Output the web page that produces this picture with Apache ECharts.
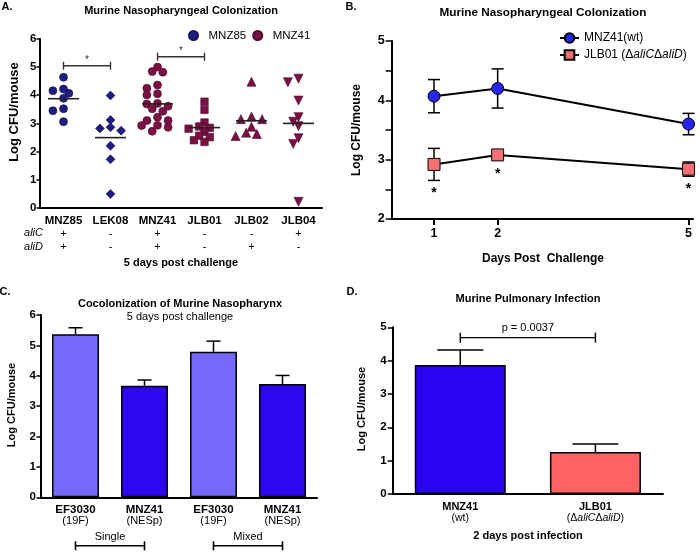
<!DOCTYPE html>
<html><head><meta charset="utf-8">
<script src="https://cdn.jsdelivr.net/npm/echarts@6/dist/echarts.min.js"></script>
<style>html,body{margin:0;padding:0;background:#fff}#c{width:700px;height:552px}</style>
</head><body><div id="c"></div><script>
// ---------- Panel A data ----------
const strainsA = ['MNZ85','LEK08','MNZ41','JLB01','JLB02','JLB04'];
const aliC = ['+','-','+','-','-','+'];
const aliD = ['+','-','+','-','+','-'];
const valsMNZ85 = [4.64,4.22,4.16,4.07,3.89,3.52,3.45,3.06];
const valsLEK08 = [3.99,3.12,2.86,2.82,2.74,2.20,1.72,0.49];
const valsMNZ41 = [5.00,4.84,4.82,4.36,4.25,4.05,4.01,3.71,3.69,3.61,3.52,3.43,3.22,3.10,3.10,2.93,2.92,2.86,2.72];
const valsJLB01 = [3.77,3.48,3.03,2.89,2.84,2.81,2.70,2.56,2.51,2.40,2.34];
const valsJLB02 = [4.48,3.24,3.15,3.15,2.88,2.67,2.62,2.55];
const valsJLB04 = [4.59,4.46,3.81,3.22,3.06,2.90,2.47,2.27,0.21];
const sigA = [[0,1,5.05],[2,3,5.37]];
const sigALabels = ['*','*'];
const legendA = ['MNZ85','MNZ41'];

// ---------- Panel B data ----------
const daysB = [1,2,5];
const meanMNZ41 = [4.07,4.20,3.60];
const semMNZ41 = [0.28,0.33,0.18];
const meanJLB01 = [2.92,3.08,2.84];
const semJLB01 = [0.27,0.05,0.12];
const sigB = ['*','*','*'];
const nameB1 = 'MNZ41(wt)';
const nameB2 = 'JLB01 (ΔaliCΔaliD)';

// ---------- Panel C data ----------
const catsC = ['EF3030','MNZ41','EF3030','MNZ41'];
const subC = ['(19F)','(NESp)','(19F)','(NESp)'];
const valsC = [5.37,3.67,4.79,3.73];
const errC = [0.21,0.19,0.35,0.28];
const groupsC = [['Single',0,1],['Mixed',2,3]];

// ---------- Panel D data ----------
const catsD = ['MNZ41','JLB01'];
const subD = ['(wt)','(ΔaliCΔaliD)'];
const valsD = [3.87,1.26];
const errD = [0.45,0.24];
const sigD = [[0,1,4.69]];
const sigDLabels = ['p = 0.0037'];

// ---------- styles ----------
const FF = '"Liberation Sans", Arial, Helvetica, sans-serif';
const NAVY = '#1f1d80', MAROON = '#7a1043';
const groupsA = [valsMNZ85, valsLEK08, valsMNZ41, valsJLB01, valsJLB02, valsJLB04];
const symA = ['circle','diamond','circle','rect','triangle','triangle'];
const rotA = [0,0,0,0,0,180];
const sizeA = [8,9,8,7.5,9,9];
const colA = [NAVY, NAVY, MAROON, MAROON, MAROON, MAROON];
const legA = [legendA[0], legendA[0], legendA[1], legendA[1], legendA[1], legendA[1]];
const colorsC = ['#7569fb','#2c08ee','#7569fb','#2c08ee'];
const colorsD = ['#2b04f2','#fe6262'];
const mean = a => a.reduce((s,v)=>s+v,0)/a.length;

function italicRich(s){ return '{s|' + s.replace(/(ali[CD])/g, '}{i|$1}{s|') + '}'; }

const axisLine = {show:true, onZero:false, lineStyle:{color:'#000', width:2}};
function yAx(g, min, max, size, margin, tlen, extra){
  return Object.assign({type:'value', gridIndex:g, min:min, max:max, interval:1,
    axisLine:axisLine, axisTick:{show:true, length:tlen, lineStyle:{color:'#000', width:1.5}},
    axisLabel:{margin:margin, fontWeight:'bold', fontSize:size, color:'#000', fontFamily:FF},
    splitLine:{show:false}}, extra||{});
}

function bracket(labels, font, tick, textGap, color){
  return function(params, api){
    const a = api.coord([api.value(0), api.value(2)]);
    const b = api.coord([api.value(1), api.value(2)]);
    const st = {stroke:color, lineWidth:1.4};
    return {type:'group', children:[
      {type:'line', shape:{x1:a[0], y1:a[1], x2:b[0], y2:b[1]}, style:st},
      {type:'line', shape:{x1:a[0], y1:a[1]-tick, x2:a[0], y2:a[1]+tick}, style:st},
      {type:'line', shape:{x1:b[0], y1:b[1]-tick, x2:b[0], y2:b[1]+tick}, style:st},
      {type:'text', x:(a[0]+b[0])/2, y:a[1]-textGap, style:{text:labels[params.dataIndex], font:font, fill:color, align:'center', verticalAlign:'middle'}}
    ]};
  };
}
function errUp(capHalf){
  return function(params, api){
    const b = api.coord([api.value(0), api.value(1)]);
    const t = api.coord([api.value(0), api.value(1)+api.value(2)]);
    const st = {stroke:'#000', lineWidth:1.5};
    return {type:'group', children:[
      {type:'line', shape:{x1:b[0], y1:b[1], x2:t[0], y2:t[1]}, style:st},
      {type:'line', shape:{x1:t[0]-capHalf, y1:t[1], x2:t[0]+capHalf, y2:t[1]}, style:st}
    ]};
  };
}
function errBoth(params, api){
  const t = api.coord([api.value(0), api.value(1)+api.value(2)]);
  const b = api.coord([api.value(0), api.value(1)-api.value(2)]);
  const st = {stroke:'#000', lineWidth:1.5};
  return {type:'group', children:[
    {type:'line', shape:{x1:t[0], y1:t[1], x2:b[0], y2:b[1]}, style:st},
    {type:'line', shape:{x1:t[0]-6, y1:t[1], x2:t[0]+6, y2:t[1]}, style:st},
    {type:'line', shape:{x1:b[0]-6, y1:b[1], x2:b[0]+6, y2:b[1]}, style:st}
  ]};
}

const series = [];
// Panel A scatter
groupsA.forEach((vals, i) => {
  series.push({type:'scatter', name:legA[i], xAxisIndex:0, yAxisIndex:0, symbol:symA[i], symbolRotate:rotA[i],
    symbolSize:sizeA[i], itemStyle:{color:colA[i], opacity:1, borderColor: i>=2 ? '#4a0a28' : '#15135a', borderWidth:0.6},
    data: vals.map(v => [i, v]), z:3});
});
// Panel A mean lines
series.push({type:'custom', xAxisIndex:0, yAxisIndex:0, z:4, encode:{x:0, y:1},
  data: groupsA.map((vals,i)=>[i, mean(vals)]),
  renderItem:(params, api)=>{ const c = api.coord([api.value(0), api.value(1)]);
    return {type:'line', shape:{x1:c[0]-15.5, y1:c[1], x2:c[0]+15.5, y2:c[1]}, style:{stroke:'#222', lineWidth:1.6}}; }});
// Panel A significance
series.push({type:'custom', xAxisIndex:0, yAxisIndex:0, z:4, encode:{x:[0,1], y:2}, data:sigA,
  renderItem: bracket(sigALabels, '10px '+FF, 4, 5, '#333')});

// Panel B
series.push({type:'custom', xAxisIndex:1, yAxisIndex:1, z:1, encode:{x:0, y:1}, renderItem:errBoth,
  data: daysB.map((d,i)=>[d, meanMNZ41[i], semMNZ41[i]])});
series.push({type:'custom', xAxisIndex:1, yAxisIndex:1, z:1, encode:{x:0, y:1}, renderItem:errBoth,
  data: daysB.map((d,i)=>[d, meanJLB01[i], semJLB01[i]])});
series.push({type:'line', name:nameB1, xAxisIndex:1, yAxisIndex:1, z:3, symbol:'circle', symbolSize:12,
  itemStyle:{color:'#2525ee', borderColor:'#000', borderWidth:1}, lineStyle:{color:'#000', width:2},
  data: daysB.map((d,i)=>[d, meanMNZ41[i]])});
series.push({type:'line', name:nameB2, xAxisIndex:1, yAxisIndex:1, z:3, symbol:'rect', symbolSize:12,
  itemStyle:{color:'#f47070', borderColor:'#000', borderWidth:1}, lineStyle:{color:'#000', width:2},
  data: daysB.map((d,i)=>[d, meanJLB01[i]])});
series.push({type:'custom', xAxisIndex:1, yAxisIndex:1, z:4, encode:{x:0, y:1},
  data: daysB.map((d,i)=>[d, meanJLB01[i], semJLB01[i]]),
  renderItem:(params, api)=>{
    const m = api.coord([api.value(0), api.value(1)]);
    const lo = api.coord([api.value(0), api.value(1)-api.value(2)]);
    const y = Math.max(lo[1], m[1]+6) + 13;
    return {type:'text', x:m[0], y:y, style:{text:sigB[params.dataIndex], font:'bold 14px '+FF, fill:'#000', align:'center', verticalAlign:'middle'}};
  }});

// Panel C
series.push({type:'bar', xAxisIndex:2, yAxisIndex:2, barWidth:47, z:2,
  itemStyle:{borderColor:'#000', borderWidth:1.5},
  data: valsC.map((v,i)=>({value:v, itemStyle:{color:colorsC[i]}}))});
series.push({type:'custom', xAxisIndex:2, yAxisIndex:2, z:1, encode:{x:0, y:1}, renderItem:errUp(7),
  data: valsC.map((v,i)=>[i, v, errC[i]])});
series.push({type:'custom', xAxisIndex:2, yAxisIndex:2, z:4, encode:{x:[0,1], y:2},
  data: groupsC.map(g=>[g[1], g[2], 0]),
  renderItem:(params, api)=>{
    const a = api.coord([api.value(0), 0]), b = api.coord([api.value(1), 0]);
    const y = a[1] + 48.5; const st = {stroke:'#000', lineWidth:1.6};
    return {type:'group', children:[
      {type:'line', shape:{x1:a[0], y1:y, x2:b[0], y2:y}, style:st},
      {type:'line', shape:{x1:a[0], y1:y-4.5, x2:a[0], y2:y+4.5}, style:st},
      {type:'line', shape:{x1:b[0], y1:y-4.5, x2:b[0], y2:y+4.5}, style:st},
      {type:'text', x:(a[0]+b[0])/2, y:y-9, style:{text:groupsC[params.dataIndex][0], font:'11px '+FF, fill:'#000', align:'center', verticalAlign:'middle'}}
    ]};
  }});

// Panel D
series.push({type:'bar', xAxisIndex:3, yAxisIndex:3, barWidth:91, z:2,
  itemStyle:{borderColor:'#000', borderWidth:1.5},
  data: valsD.map((v,i)=>({value:v, itemStyle:{color:colorsD[i]}}))});
series.push({type:'custom', xAxisIndex:3, yAxisIndex:3, z:1, encode:{x:0, y:1}, renderItem:errUp(23),
  data: valsD.map((v,i)=>[i, v, errD[i]])});
series.push({type:'custom', xAxisIndex:3, yAxisIndex:3, z:4, encode:{x:[0,1], y:2}, data:sigD,
  renderItem: bracket(sigDLabels, '11px '+FF, 5, 10, '#000')});

function gtext(x, y, text, font, extra){
  return Object.assign({type:'text', x:x, y:y, style:{text:text, font:font+' '+FF, fill:'#000', align:'center', verticalAlign:'middle'}}, extra||{});
}
const graphic = [
  gtext(7, 7, 'A.', 'bold 11px'),
  gtext(181, 11, 'Murine Nasopharyngeal Colonization', 'bold 11px'),
  gtext(14, 112, 'Log CFU/mouse', 'bold 13px', {rotation:Math.PI/2}),
  {type:'text', x:43, y:233, style:{text:'aliC', font:'italic 11px '+FF, fill:'#000', align:'right', verticalAlign:'middle'}},
  {type:'text', x:43, y:247, style:{text:'aliD', font:'italic 11px '+FF, fill:'#000', align:'right', verticalAlign:'middle'}},
  gtext(181, 263, '5 days post challenge', 'bold 11px'),

  gtext(351, 7, 'B.', 'bold 11px'),
  gtext(543, 13, 'Murine Nasopharyngeal Colonization', 'bold 11.75px'),
  gtext(357, 130, 'Log CFU/mouse', 'bold 12px', {rotation:Math.PI/2}),
  gtext(543, 259, 'Days Post  Challenge', 'bold 12px'),

  gtext(5, 292, 'C.', 'bold 11px'),
  gtext(180, 304, 'Cocolonization of Murine Nasopharynx', 'bold 11px'),
  gtext(180, 317, '5 days post challenge', '11px'),
  gtext(12, 405, 'Log CFU/mouse', 'bold 11px', {rotation:Math.PI/2}),

  gtext(352, 292, 'D.', 'bold 11px'),
  gtext(528, 299, 'Murine Pulmonary Infection', 'bold 11px'),
  gtext(362, 409, 'Log CFU/mouse', 'bold 11px', {rotation:Math.PI/2}),
  gtext(528, 536, '2 days post infection', 'bold 11px')
];

const option = {
  animation:false,
  textStyle:{fontFamily:FF, color:'#000'},
  grid:[
    {left:40, top:39, width:282, height:168.7, outerBoundsMode:'none'},
    {left:391.7, top:41, width:301.3, height:178, outerBoundsMode:'none'},
    {left:41, top:315, width:276, height:182.3, outerBoundsMode:'none'},
    {left:392.7, top:327.3, width:270.3, height:166.7, outerBoundsMode:'none'}
  ],
  legend:[
    {data:legendA, left:183, top:24.5, icon:'circle', itemWidth:20, itemHeight:9, itemGap:6,
     textStyle:{fontSize:11.5, color:'#000', fontFamily:FF}},
    {data:[nameB1, nameB2], orient:'vertical', left:554, top:27, itemWidth:19, itemHeight:12, itemGap:5,
     textStyle:{fontSize:12, color:'#000', fontFamily:FF,
       rich:{s:{fontSize:12, color:'#000'}, i:{fontSize:12, fontStyle:'italic', color:'#000'}}},
     formatter: n => italicRich(n)}
  ],
  xAxis:[
    {type:'category', gridIndex:0, data:strainsA, axisLine:axisLine,
     axisTick:{alignWithLabel:true, length:4, lineStyle:{color:'#000', width:1.5}},
     axisLabel:{interval:0, margin:6, color:'#000',
       formatter:(v,i)=>'{n|'+v+'}\n{s|'+aliC[i]+'}\n{s|'+aliD[i]+'}',
       rich:{n:{fontWeight:'bold', fontSize:11.5, lineHeight:13.5, color:'#000', fontFamily:FF},
             s:{fontSize:11, lineHeight:13.5, color:'#000', fontFamily:FF}}},
     splitLine:{show:false}},
    {type:'value', gridIndex:1, min:0.335, max:5.07, axisLine:axisLine,
     axisTick:{show:true, length:6, customValues:daysB, lineStyle:{color:'#000', width:2}},
     axisLabel:{margin:8, fontWeight:'bold', fontSize:12.5, color:'#000', customValues:daysB, fontFamily:FF},
     splitLine:{show:false}},
    {type:'category', gridIndex:2, data:catsC, axisLine:axisLine,
     axisTick:{alignWithLabel:true, length:4, lineStyle:{color:'#000', width:1.5}},
     axisLabel:{interval:0, margin:7, color:'#000',
       formatter:(v,i)=>'{n|'+v+'}\n{s|'+subC[i]+'}',
       rich:{n:{fontWeight:'bold', fontSize:11.5, lineHeight:11, color:'#000', fontFamily:FF},
             s:{fontSize:11, lineHeight:11, color:'#000', fontFamily:FF}}},
     splitLine:{show:false}},
    {type:'category', gridIndex:3, data:catsD, axisLine:axisLine,
     axisTick:{alignWithLabel:true, length:5, lineStyle:{color:'#000', width:1.5}},
     axisLabel:{interval:0, margin:7, color:'#000',
       formatter:(v,i)=>'{n|'+v+'}\n'+italicRich(subD[i]),
       rich:{n:{fontWeight:'bold', fontSize:11, lineHeight:11.5, color:'#000', fontFamily:FF},
             s:{fontSize:10.5, lineHeight:11.5, color:'#000', fontFamily:FF},
             i:{fontSize:10.5, lineHeight:11.5, fontStyle:'italic', color:'#000', fontFamily:FF}}},
     splitLine:{show:false}}
  ],
  yAxis:[
    yAx(0, 0, 6, 11.5, 3.5, 3.5),
    yAx(1, 2, 5, 12.5, 7, 6, {minorTick:{show:true, splitNumber:2, length:6, lineStyle:{color:'#000', width:1.5}}}),
    yAx(2, 0, 6, 11.5, 5, 4.5),
    yAx(3, 0, 5, 11.5, 6, 5)
  ],
  graphic: graphic,
  series: series
};

const chart = echarts.init(document.getElementById('c'), null, {renderer:'canvas'});
chart.setOption(option);

// beeswarm spreading of panel A points (greedy, collision-based), computed from the axis pixel scale
function swarm(catIdx, vals, step, dist){
  const ys = vals.map(v => chart.convertToPixel({xAxisIndex:0, yAxisIndex:0}, [catIdx, v])[1]);
  const order = ys.map((y,i)=>i).sort((p,q)=>ys[p]-ys[q]);
  const off = new Array(vals.length).fill(0);
  const placed = [];
  order.forEach(idx => {
    for (let k = 0; k < 20; k++) {
      const cand = k === 0 ? 0 : (k % 2 ? -1 : 1) * Math.ceil(k/2) * step;
      const ok = placed.every(p => Math.hypot(p[0]-cand, p[1]-ys[idx]) >= dist);
      if (ok) { off[idx] = cand; placed.push([cand, ys[idx]]); break; }
    }
  });
  return off;
}
const newSeries = option.series.map(() => ({}));
groupsA.forEach((vals, i) => {
  const off = swarm(i, vals, 5.3, 6.5);
  newSeries[i] = {data: vals.map((v,k)=>({value:[i, v], symbolOffset:[off[k], 0]}))};
});
chart.setOption({series:newSeries});
</script></body></html>
